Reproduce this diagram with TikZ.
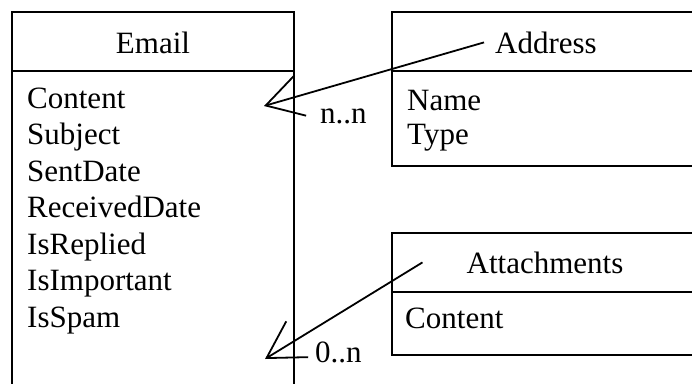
\documentclass[tikz,border=0pt]{standalone}
\usepackage{fontspec}
\setmainfont{Liberation Serif}
\usetikzlibrary{arrows.meta}
\begin{document}
\begin{tikzpicture}[x=1pt,y=-1pt,
  box/.style={line width=2.6pt},
  attr/.style={inner sep=0pt,anchor=base west,font=\fontsize{31}{37}\selectfont},
  title/.style={inner sep=0pt,anchor=base,font=\fontsize{31}{37}\selectfont},
  assoc/.style={line width=1.8pt,-{Straight Barb[length=36pt,width=42pt]}}]
\useasboundingbox (0,0) rectangle (692,383);
\begin{scope}
\clip (0,0) rectangle (692,383);
% Email class
\draw[box] (12,420) -- (12,12) -- (294,12) -- (294,420);
\draw[box] (12,71) -- (294,71);
\node[title] (email) at (153,53) {Email};
\foreach \t [count=\i from 0] in {Content,Subject,SentDate,ReceivedDate,IsReplied,IsImportant,IsSpam}
  \node[attr] (email-\i) at (27,108+36.5*\i) {\t};
% Address class
\draw[box] (700,12) -- (392,12) -- (392,166) -- (700,166);
\draw[box] (392,71) -- (700,71);
\node[title] (address) at (546,53) {Address};
\node[attr] (address-0) at (407,110) {Name};
\node[attr] (address-1) at (407,144) {Type};
% Attachments class
\draw[box] (700,233) -- (392,233) -- (392,355) -- (700,355);
\draw[box] (392,292) -- (700,292);
\node[title] (attach) at (545,273) {Attachments};
\node[attr] (attach-0) at (405,328) {Content};
\end{scope}
% associations
\coordinate (addrSrc) at ([xshift=-11pt]address.west);
\coordinate (attSrc) at ([xshift=-44pt]attach.west);
\coordinate (addrTip) at (264,106);
\coordinate (attTip) at (265,359);
\draw[assoc] (addrSrc) -- (addrTip);
\draw[assoc] (attSrc) -- (attTip);
\node[attr] (mulA) at (320,123) {n..n};
\node[attr] (mulB) at (315,362) {0..n};
\end{tikzpicture}
\end{document}
